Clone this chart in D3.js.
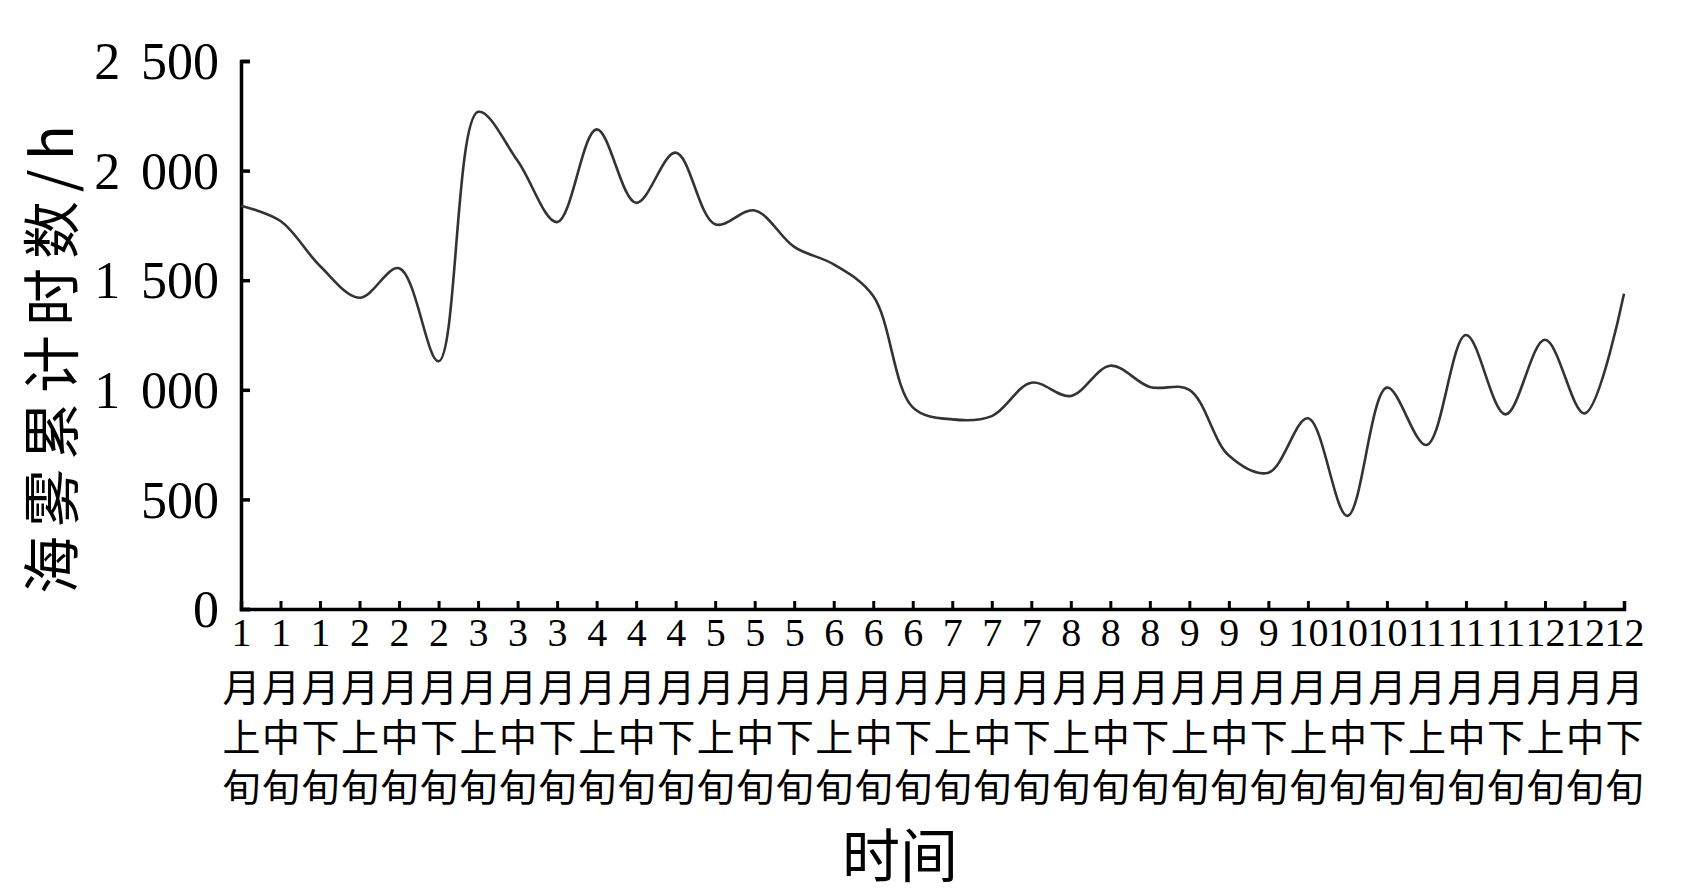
<!DOCTYPE html>
<html><head><meta charset="utf-8">
<script src="https://cdn.jsdelivr.net/npm/d3@7"></script>
<style>
html,body{margin:0;padding:0;background:#fff;}
svg{display:block;}
</style></head>
<body>
<script>
// ---- data ----
const months = ["1","1","1","2","2","2","3","3","3","4","4","4","5","5","5","6","6","6","7","7","7","8","8","8","9","9","9","10","10","10","11","11","11","12","12","12"];
const xun = ["上","中","下"];
const categories = months.map((m,i)=> m + "月" + xun[i%3] + "旬");
const values = [1840,1770,1565,1420,1555,1130,2268,2045,1765,2188,1853,2082,1755,1818,1652,1572,1428,920,865,880,1032,972,1110,1013,1000,700,622,870,425,1010,748,1250,888,1228,892,1438];
const yTicks = [0,500,1000,1500,2000,2500];
const yTitle = "海雾累计时数/h";
const xTitle = "时间";

// ---- layout ----
const W = 1701, H = 896;
const mLeft = 241, mRight = 1624, mTop = 61, mBottom = 609;
const serif = "'Liberation Serif','Times New Roman','Noto Sans CJK SC',serif";
const cjk = "'Noto Sans CJK SC','Liberation Serif',sans-serif";

const svg = d3.select("body").append("svg").attr("width", W).attr("height", H);

const x = d3.scalePoint().domain(categories).range([mLeft, mRight]);
const y = d3.scaleLinear().domain([0, 2500]).range([mBottom, mTop]);

// y axis
const yAxis = svg.append("g").attr("transform", `translate(${mLeft},0)`)
  .call(d3.axisLeft(y).tickValues(yTicks).tickSize(-9).tickPadding(22)
    .tickFormat(d => d >= 1000 ? d3.format(",")(d).replace(",", "\u2009\u2009") : d));
yAxis.select(".domain").attr("stroke", "#000").attr("stroke-width", 3.5);
yAxis.selectAll(".tick line").attr("stroke", "#000").attr("stroke-width", 3.5);
yAxis.selectAll(".tick text").attr("font-family", serif).attr("font-size", 52).attr("fill", "#000")
  .attr("dy", "0.34em");

// x axis
const xAxis = svg.append("g").attr("transform", `translate(0,${mBottom})`)
  .call(d3.axisBottom(x).tickSize(-8).tickPadding(12).tickFormat(""));
xAxis.select(".domain").attr("stroke", "#000").attr("stroke-width", 3.5);
xAxis.selectAll(".tick line").attr("stroke", "#000").attr("stroke-width", 3);
xAxis.selectAll(".tick").each(function(d, i){
  const g = d3.select(this);
  const t = g.append("text").attr("fill", "#000").attr("text-anchor", "middle");
  t.append("tspan").attr("x", 0).attr("y", 37).attr("font-family", serif).attr("font-size", 40).text(months[i]);
  t.append("tspan").attr("x", 0).attr("y", 92).attr("font-family", cjk).attr("font-size", 38).text("月");
  t.append("tspan").attr("x", 0).attr("y", 142).attr("font-family", cjk).attr("font-size", 38).text(xun[i%3]);
  t.append("tspan").attr("x", 0).attr("y", 192).attr("font-family", cjk).attr("font-size", 38).text("旬");
});

// line
const line = d3.line()
  .x((d,i) => x(categories[i]))
  .y(d => y(d))
  .curve(d3.curveCatmullRom.alpha(0.5));
svg.append("path").datum(values)
  .attr("d", line).attr("fill", "none").attr("stroke", "#333").attr("stroke-width", 2.6);

// titles
svg.append("text").attr("transform", `translate(73,${355}) rotate(-90)`)
  .attr("text-anchor", "middle").attr("font-family", cjk).attr("font-size", 58)
  .attr("letter-spacing", 9)
  .attr("fill", "#000").text(yTitle);
svg.append("text").attr("x", 900).attr("y", 877)
  .attr("text-anchor", "middle").attr("font-family", cjk).attr("font-size", 58)
  .attr("fill", "#000").text(xTitle);
</script>
</body></html>
